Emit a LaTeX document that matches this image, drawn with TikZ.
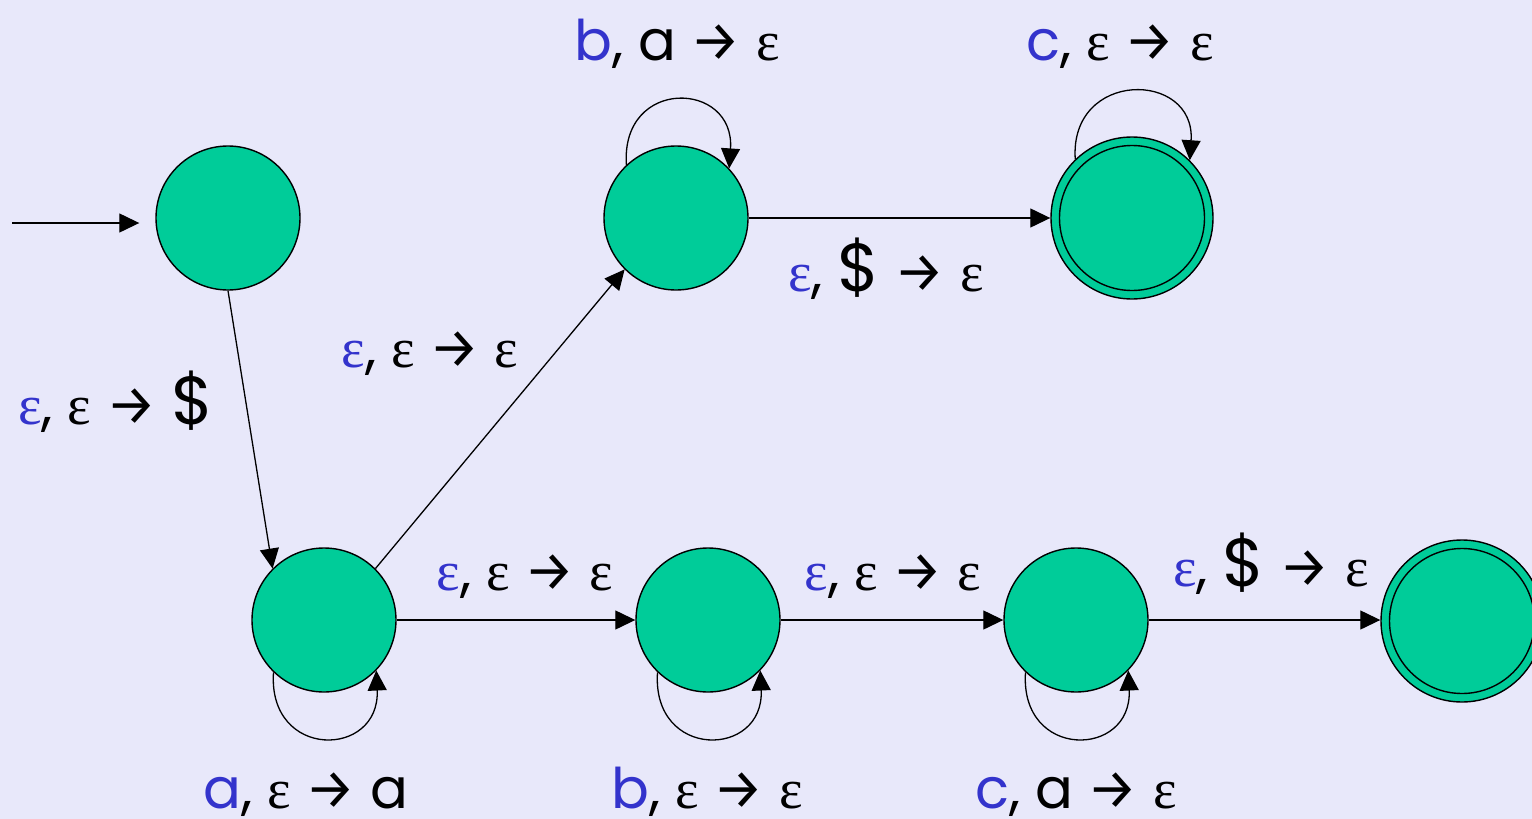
\documentclass[tikz,border=0pt]{standalone}
\usepackage{fontspec}
\setmainfont{Poppins}
\newfontfamily\epsfont{Liberation Serif}
\newfontfamily\arrfont{Fira Sans}
\usetikzlibrary{arrows.meta}
\definecolor{bgcol}{RGB}{232,232,250}
\definecolor{stategreen}{RGB}{0,204,153}
\definecolor{labblue}{RGB}{51,51,204}
\newcommand\Eps{{\epsfont ε}}
\newcommand\Arr{{\arrfont →}}
\newcommand\Dol{{\fontsize{68}{60}\selectfont\$}}
\newcommand\Lbl[2]{{\color{labblue}#1}, #2}
\begin{document}
\begin{tikzpicture}[x=1pt,y=1pt,
  state/.style={circle,draw,line width=1.4pt,fill=stategreen,minimum size=144pt,inner sep=0pt},
  accstate/.style={state,minimum size=162pt},
  edge/.style={-{Triangle[length=20pt,width=19pt]},line width=1.3pt},
  lab/.style={anchor=base,font=\fontsize{56}{60}\selectfont,inner sep=0pt}]
\clip (0,0) rectangle (1532,-819);
\fill[bgcol] (0,0) rectangle (1532,-819);

% states
\node[state] (q0) at (228,-218) {};
\node[state] (q1) at (324,-620) {};
\node[state] (q2) at (676,-218) {};
\node[accstate] (q3) at (1132,-218) {};
\draw[line width=1.4pt] (q3) circle (72.5pt);
\node[state] (q4) at (708,-620) {};
\node[state] (q5) at (1076,-620) {};
\node[accstate] (q6) at (1462,-621) {};
\draw[line width=1.4pt] (q6) circle (72.5pt);

% start arrow
\coordinate (start) at (12,-223);
\draw[edge,shorten >=16pt] (start) -- (start -| q0.west);

% transitions
\draw[edge] (q0.south) -- (q1.135);
\draw[edge] (q1.45) -- (q2.225);
\draw[edge] (q2.east) -- (q3.west);
\draw[edge] (q1.east) -- (q4.west);
\draw[edge] (q4.east) -- (q5.west);
\draw[edge] (q5.east) -- (q6.west |- q5.east);

% loops
\draw[edge] (q2.133) .. controls +(-6,88) and +(6,88) .. (q2.43);
\draw[edge] (q3.134) .. controls +(-6,90) and +(6,90) .. (q3.45);
\draw[edge] (q1.-134) .. controls +(-6,-88) and +(4,-88) .. (q1.-44);
\draw[edge] (q4.-134) .. controls +(-6,-88) and +(4,-88) .. (q4.-44);
\draw[edge] (q5.-134) .. controls +(-6,-88) and +(4,-88) .. (q5.-44);

% labels
\node[lab] (l2) at (677,-60) {\Lbl{b}{a \Arr\ \Eps}};
\node[lab] (l3) at (1120,-60) {\Lbl{c}{\Eps\ \Arr\ \Eps}};
\node[lab] (l01) at (116,-424) {\Lbl{\Eps}{\Eps\ \Arr\ \Dol}};
\node[lab] (l12) at (430,-367) {\Lbl{\Eps}{\Eps\ \Arr\ \Eps}};
\node[lab] (l23) at (886,-291) {\Lbl{\Eps}{\Dol\ \Arr\ \Eps}};
\node[lab] (l14) at (525,-590) {\Lbl{\Eps}{\Eps\ \Arr\ \Eps}};
\node[lab] (l45) at (893,-590) {\Lbl{\Eps}{\Eps\ \Arr\ \Eps}};
\node[lab] (l56) at (1271,-586) {\Lbl{\Eps}{\Dol\ \Arr\ \Eps}};
\node[lab] (l1) at (306,-808) {\Lbl{a}{\Eps\ \Arr\ a}};
\node[lab] (l4) at (707,-808) {\Lbl{b}{\Eps\ \Arr\ \Eps}};
\node[lab] (l5) at (1076,-808) {\Lbl{c}{a \Arr\ \Eps}};
\end{tikzpicture}
\end{document}
